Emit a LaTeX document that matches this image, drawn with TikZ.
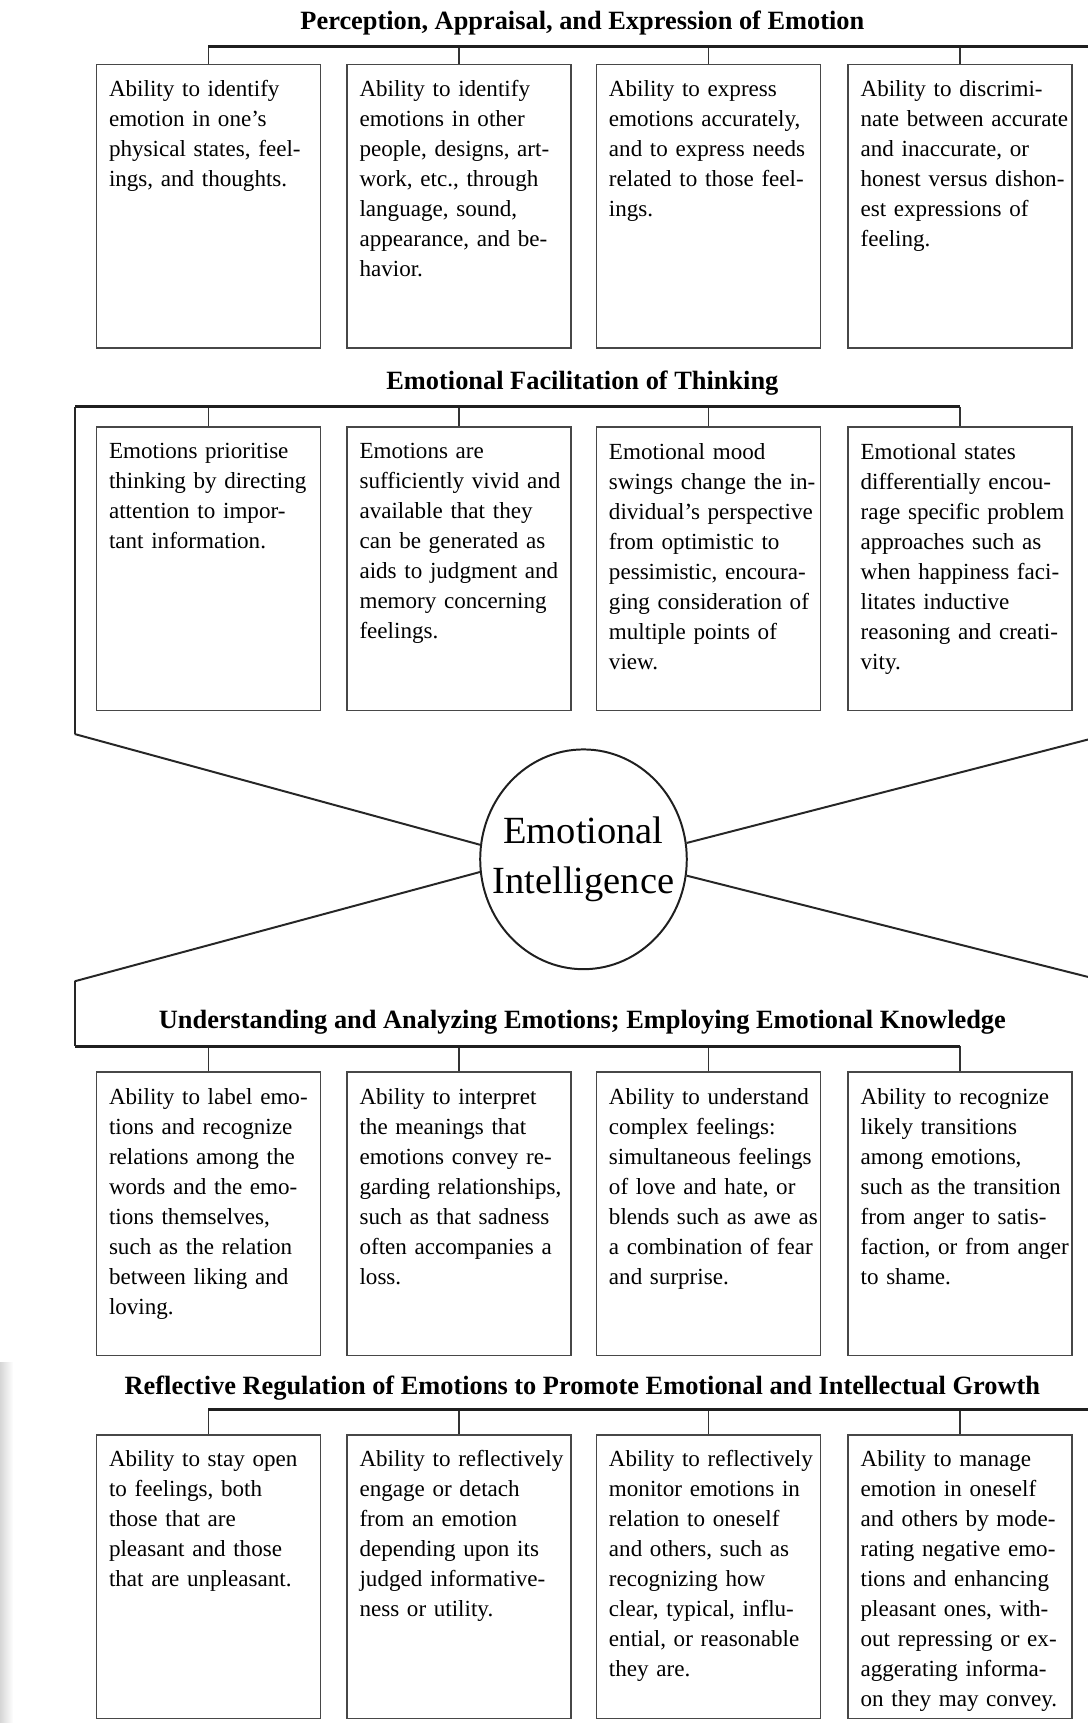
\documentclass[tikz,border=0pt]{standalone}
\usepackage{fontspec}
\setmainfont{Liberation Serif}
\usetikzlibrary{shapes.geometric}

\tikzset{
  box/.style={draw=black!72, line width=1.4pt, minimum width=204pt,
    minimum height=258pt, anchor=north west, inner sep=0pt},
  boxtext/.style={anchor=north west, inner sep=0pt, text width=194pt,
    align=left, font=\fontsize{21}{27.3}\selectfont},
  heading/.style={inner sep=0pt, font=\bfseries\fontsize{24}{28}\selectfont},
  bar/.style={line width=2.6pt, draw=black!88},
  rail/.style={line width=2.2pt, draw=black!85},
  tick/.style={line width=1.3pt, draw=black!80},
  link/.style={line width=1.8pt, draw=black!85},
  core/.style={ellipse, draw=black!88, line width=1.8pt, minimum width=188pt,
    minimum height=200pt, inner sep=0pt},
  coretext/.style={inner sep=0pt, align=center,
    font=\fontsize{35}{46}\selectfont},
}

% box with its text: name, left x, top y, text
\newcommand\skillbox[4]{%
  \node[box] (#1) at (#2,#3) {};
  \node[boxtext] (#1t) at ([xshift=12pt,yshift=-15pt]#1.north west) {#4};
}

\begin{document}
\begin{tikzpicture}[x=1pt,y=-1pt]
\useasboundingbox (0,0) rectangle (990,1568);
\clip (0,0) rectangle (990,1568);

% faint page shadow along the lower left edge
\shade[left color=black!16, right color=white] (0,1240) rectangle (12,1568);

% branch levels
\coordinate (lv1) at (0,42);
\coordinate (lv2) at (0,370);
\coordinate (lv3) at (0,952);
\coordinate (lv4) at (0,1283);

% headings
\node[heading] (h1) at (530,21) {Perception, Appraisal, and Expression of Emotion};
\node[heading] (h2) at (530,349) {Emotional Facilitation of Thinking};
\node[heading] (h3) at (530,930) {Understanding and Analyzing Emotions; Employing Emotional Knowledge};
\node[heading] (h4) at (530,1263) {Reflective Regulation of Emotions to Promote Emotional and Intellectual Growth};

% centre
\node[core] (ei) at (531,782) {};
\node[coretext] (eit) at (ei.center) {Emotional\\Intelligence};

% row 1
\skillbox{a1}{87}{58}{Ability to identify\\emotion in one's\\physical states, feel-\\ings, and thoughts.}
\skillbox{a2}{315}{58}{Ability to identify\\emotions in other\\people, designs, art-\\work, etc., through\\language, sound,\\appearance, and be-\\havior.}
\skillbox{a3}{542}{58}{Ability to express\\emotions accurately,\\and to express needs\\related to those feel-\\ings.}
\skillbox{a4}{771}{58}{Ability to discrimi-\\nate between accurate\\and inaccurate, or\\honest versus dishon-\\est expressions of\\feeling.}

% row 2
\skillbox{b1}{87}{388}{Emotions prioritise\\thinking by directing\\attention to impor-\\tant information.}
\skillbox{b2}{315}{388}{Emotions are\\sufficiently vivid and\\available that they\\can be generated as\\aids to judgment and\\memory concerning\\feelings.}
\skillbox{b3}{542}{388}{Emotional mood\\swings change the in-\\dividual's perspective\\from optimistic to\\pessimistic, encoura-\\ging consideration of\\multiple points of\\view.}
\skillbox{b4}{771}{388}{Emotional states\\differentially encou-\\rage specific problem\\approaches such as\\when happiness faci-\\litates inductive\\reasoning and creati-\\vity.}

% row 3
\skillbox{c1}{87}{975}{Ability to label emo-\\tions and recognize\\relations among the\\words and the emo-\\tions themselves,\\such as the relation\\between liking and\\loving.}
\skillbox{c2}{315}{975}{Ability to interpret\\the meanings that\\emotions convey re-\\garding relationships,\\such as that sadness\\often accompanies a\\loss.}
\skillbox{c3}{542}{975}{Ability to understand\\complex feelings:\\simultaneous feelings\\of love and hate, or\\blends such as awe as\\a combination of fear\\and surprise.}
\skillbox{c4}{771}{975}{Ability to recognize\\likely transitions\\among emotions,\\such as the transition\\from anger to satis-\\faction, or from anger\\to shame.}

% row 4
\skillbox{d1}{87}{1305}{Ability to stay open\\to feelings, both\\those that are\\pleasant and those\\that are unpleasant.}
\skillbox{d2}{315}{1305}{Ability to reflectively\\engage or detach\\from an emotion\\depending upon its\\judged informative-\\ness or utility.}
\skillbox{d3}{542}{1305}{Ability to reflectively\\monitor emotions in\\relation to oneself\\and others, such as\\recognizing how\\clear, typical, influ-\\ential, or reasonable\\they are.}
\skillbox{d4}{771}{1305}{Ability to manage\\emotion in oneself\\and others by mode-\\rating negative emo-\\tions and enhancing\\pleasant ones, with-\\out repressing or ex-\\aggerating informa-\\on they may convey.}

% ticks from each box up to its branch bar
\foreach \r/\lv in {a/lv1,b/lv2,c/lv3,d/lv4}{
  \foreach \k in {1,2,3,4}{
    \draw[tick] (\r\k.north) -- (\r\k.north |- \lv);
  }
}

% side rails joining the bars to the centre
\coordinate (ur) at (994,672);
\coordinate (ul) at (68,668);
\coordinate (ll) at (68,893);
\coordinate (lr) at (994,890);

\draw[bar] (a1.north |- lv1) -- (ur |- lv1);
\draw[rail] (ur |- lv1) -- (ur);
\draw[bar] (b4.north |- lv2) -- (ul |- lv2);
\draw[rail] (ul |- lv2) -- (ul);
\draw[bar] (c4.north |- lv3) -- (ll |- lv3);
\draw[rail] (ll |- lv3) -- (ll);
\draw[bar] (d1.north |- lv4) -- (lr |- lv4);
\draw[rail] (lr |- lv4) -- (lr);

\draw[link] (ur) -- (ei.9);
\draw[link] (ul) -- (ei.172);
\draw[link] (ll) -- (ei.187);
\draw[link] (lr) -- (ei.351);
\end{tikzpicture}
\end{document}
